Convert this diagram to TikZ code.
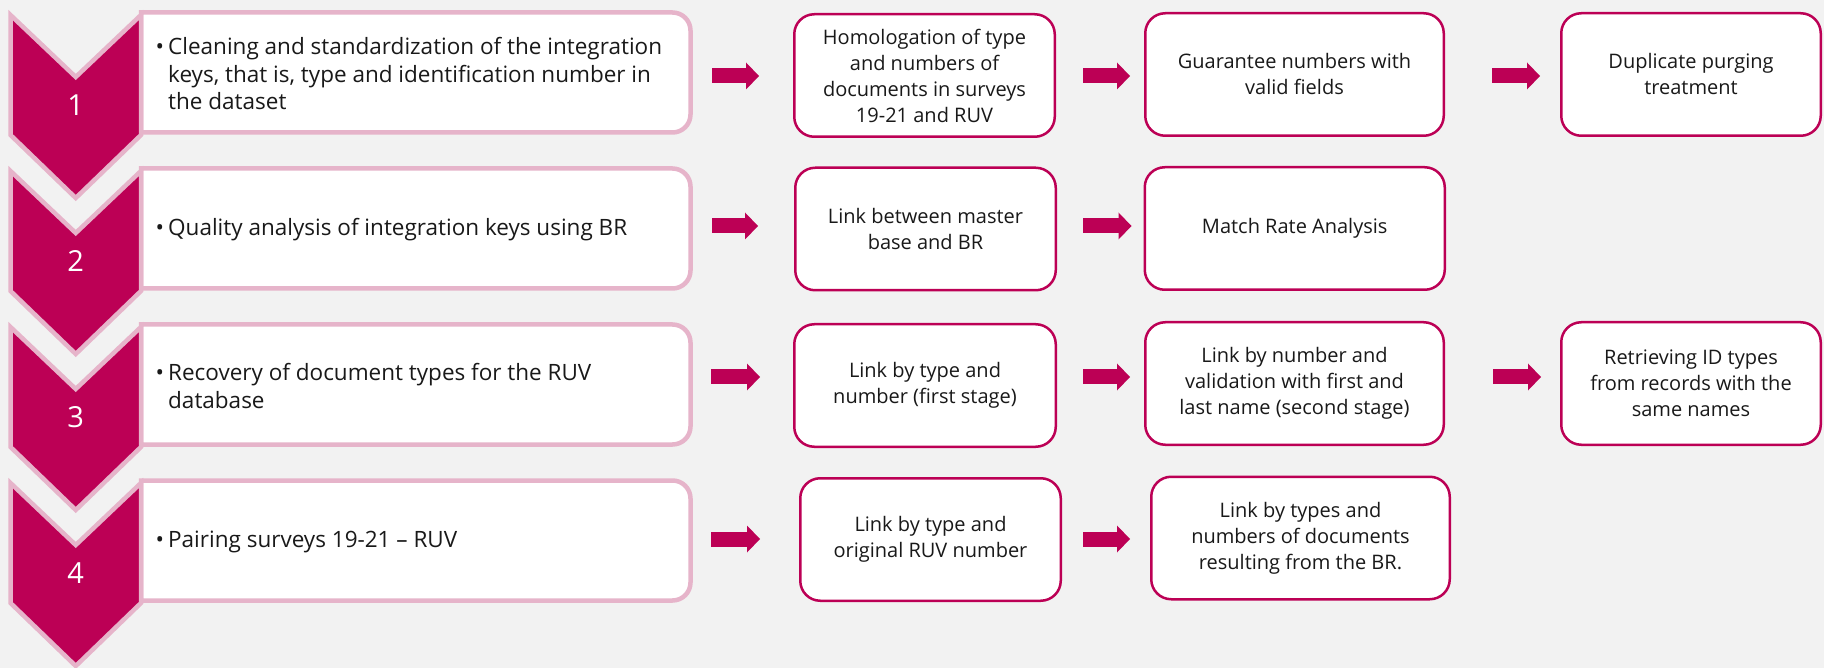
\documentclass[tikz,border=0pt]{standalone}
\usepackage{fontspec}
\setmainfont{Open Sans}
\usepackage{xcolor}
\usetikzlibrary{arrows.meta}
\definecolor{berry}{HTML}{BC0055}
\definecolor{blush}{HTML}{E6B4CA}
\definecolor{paper}{HTML}{F2F2F2}

\begin{document}
\begin{tikzpicture}[x=1pt,y=-1pt,
    stepbox/.style={minimum width=549.5pt,minimum height=120pt,inner sep=0pt,outer sep=0pt},
    stepframe/.style={draw=blush,fill=white,line width=4.5pt},
    chevron/.style={draw=blush,fill=berry,line width=4.5pt},
    steptext/.style={anchor=west,align=left,inner sep=0pt,text=black!90,font=\fontsize{22.5}{27.5}\selectfont},
    numtext/.style={text=white,inner sep=0pt,font=\fontsize{29}{30}\selectfont},
    task/.style={draw=berry,fill=white,line width=2.5pt,rounded corners=20pt,minimum width=#1,minimum height=122.5pt,inner sep=0pt,align=center,text=black!90,font=\fontsize{20}{26}\selectfont},
    flow/.style={draw=berry,line width=15pt,-{Triangle[length=13pt,width=27pt,line width=0pt]}}]
	\fill[paper] (0,0) rectangle (1824,668);
	\useasboundingbox (0,0) rectangle (1824,668);
	\foreach \i/\txt in {1/{Cleaning and standardization of the integration\\keys, that is, type and identification number in\\the dataset},
		2/{Quality analysis of integration keys using BR},
		3/{Recovery of document types for the RUV\\database},
		4/{Pairing surveys 19-21 -- RUV}} {
		\pgfmathsetmacro\ty{15+156*(\i-1)}
		\node[stepbox] (f\i) at (415.75,\ty+57.5) {};
		\filldraw[stepframe] (f\i.north west) -- (f\i.north) [rounded corners=18pt] -- (f\i.north east) -- (f\i.south east) -- (f\i.south) [sharp corners] -- (f\i.south west) -- cycle;
		\filldraw[chevron] (10.5,\ty) -- (75.75,\ty+62) -- (141,\ty) -- (141,\ty+120) -- (75.75,\ty+183) -- (10.5,\ty+120) -- cycle;
		\node[numtext] (n\i) at (75.75,\ty+90) {\i};
		\node[steptext] (s\i) at (168,\ty+59) {\llap{\textbullet\hspace{4pt}}\txt};
	}
	\node[task=260.5pt] (r11) at (924.5,75.5) {Homologation of type\\and numbers of\\documents in surveys\\19-21 and RUV};
	\node[task=298.5pt] (r12) at (1294.5,74.5) {Guarantee numbers with\\valid fields};
	\node[task=259.5pt] (r13) at (1691,74.5) {Duplicate purging\\treatment};
	\node[task=260.5pt] (r21) at (925.5,229) {Link between master\\base and BR};
	\node[task=300pt] (r22) at (1294.75,228.5) {Match Rate Analysis};
	\node[task=261.5pt] (r31) at (925,385.5) {Link by type and\\number (first stage)};
	\node[task=298.5pt] (r32) at (1294.5,383.5) {Link by number and\\validation with first and\\last name (second stage)};
	\node[task=259.5pt] (r33) at (1691,383.5) {Retrieving ID types\\from records with the\\same names};
	\node[task=260.5pt] (r41) at (930.5,539.5) {Link by type and\\original RUV number};
	\node[task=298.5pt] (r42) at (1300.5,538) {Link by types and\\numbers of documents\\resulting from the BR.};
	\foreach \a/\b/\y/\s/\e in {f1/r11/76/21.5/34,r11/r12/76/27/14,r12/r13/76/47/20,
		f2/r21/226/21.5/36,r21/r22/226/26/12,
		f3/r31/377/20.5/33,r31/r32/377/26/14,r32/r33/377/48/19,
		f4/r41/539/20.5/39,r41/r42/539/21/20}
		\draw[flow,shorten <=\s pt,shorten >=\e pt] (\a.east |- 0,\y) -- (\b.west |- 0,\y);
\end{tikzpicture}
\end{document}
